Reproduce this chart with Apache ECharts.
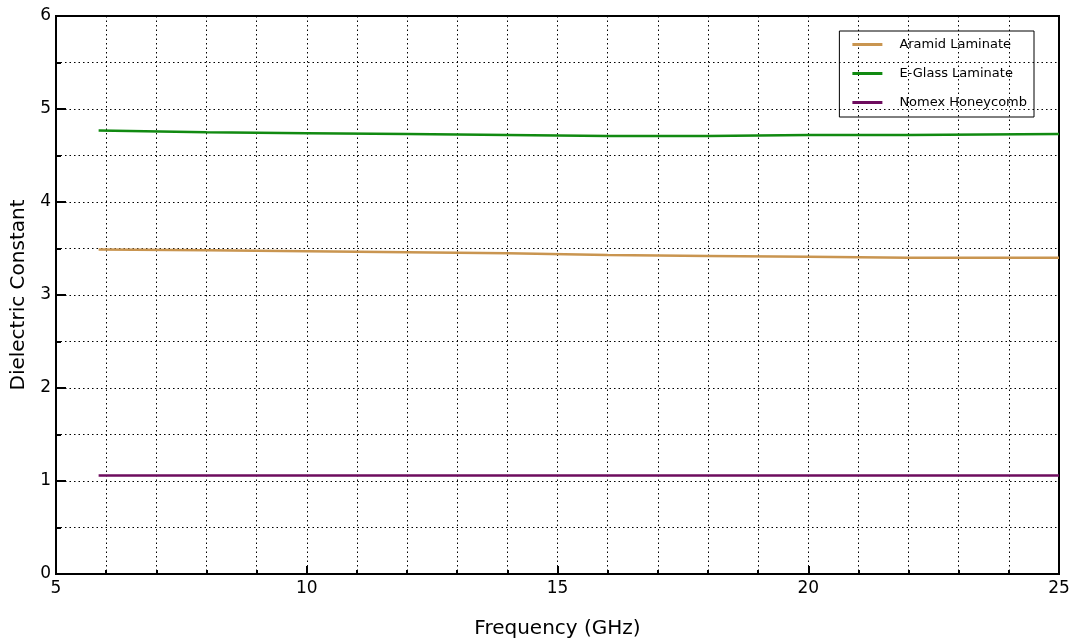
<!DOCTYPE html>
<html><head><meta charset="utf-8">
<script src="https://cdn.jsdelivr.net/npm/echarts@6/dist/echarts.min.js"></script>
<style>html,body{margin:0;padding:0;background:#fff}#c{width:1075px;height:640px}</style>
</head><body><div id="c"></div>
<script>
const freq = [5.85, 8, 10, 12, 14, 16, 18, 20, 22, 25];
const aramid = [3.49, 3.48, 3.47, 3.46, 3.45, 3.43, 3.42, 3.41, 3.40, 3.40];
const eglass = [4.77, 4.75, 4.74, 4.73, 4.72, 4.71, 4.71, 4.72, 4.72, 4.73];
const nomex = [1.06, 1.06, 1.06, 1.06, 1.06, 1.06, 1.06, 1.06, 1.06, 1.06];
const seriesNames = ['Aramid Laminate', 'E-Glass Laminate', 'Nomex Honeycomb'];
const colors = ['#C99550', '#118A11', '#6E0C5E'];
const font = 'DejaVu Sans';
const pair = (ys) => freq.map((x, i) => [x, ys[i]]);
const chart = echarts.init(document.getElementById('c'));
const dotted = { show: true, lineStyle: { color: '#000', type: [1.5, 3], width: 1 } };
chart.setOption({
  animation: false,
  grid: { left: 56, right: 16, top: 16, bottom: 66, containLabel: false, outerBoundsMode: 'none', show: true, borderColor: '#000', borderWidth: 2, backgroundColor: 'transparent' },
  legend: {
    right: 41, top: 31, orient: 'vertical', itemGap: 16, itemWidth: 30, itemHeight: 3,
    borderColor: '#000', borderWidth: 1, padding: [7, 7, 8, 13], borderRadius: 0,
    textStyle: { fontFamily: font, fontSize: 13, color: '#000', padding: [0, 0, 0, 12] },
    icon: 'rect', data: seriesNames
  },
  xAxis: {
    type: 'value', min: 5, max: 25, interval: 5,
    name: 'Frequency (GHz)', nameLocation: 'middle', nameGap: 45,
    nameTextStyle: { fontFamily: font, fontSize: 20, color: '#000' },
    axisLine: { show: true, onZero: false, lineStyle: { color: '#000', width: 2 } },
    axisTick: { show: true, inside: true, length: 8, lineStyle: { color: '#000', width: 2 } },
    minorTick: { show: true, splitNumber: 5, length: 4, lineStyle: { color: '#000', width: 2 } },
    axisLabel: { fontFamily: font, fontSize: 17, color: '#000', margin: 6 },
    splitLine: dotted, minorSplitLine: dotted
  },
  yAxis: {
    type: 'value', min: 0, max: 6, interval: 1,
    name: 'Dielectric Constant', nameLocation: 'middle', nameGap: 24,
    nameTextStyle: { fontFamily: font, fontSize: 20, color: '#000' },
    axisLine: { show: true, onZero: false, lineStyle: { color: '#000', width: 2 } },
    axisTick: { show: true, inside: true, length: 10, lineStyle: { color: '#000', width: 2 } },
    minorTick: { show: true, splitNumber: 2, length: 5, lineStyle: { color: '#000', width: 2 } },
    axisLabel: { fontFamily: font, fontSize: 17, color: '#000', margin: 5 },
    splitLine: dotted, minorSplitLine: dotted
  },
  series: [
    { name: seriesNames[0], type: 'line', data: pair(aramid), showSymbol: false, lineStyle: { width: 2.5, color: colors[0] }, itemStyle: { color: colors[0] } },
    { name: seriesNames[1], type: 'line', data: pair(eglass), showSymbol: false, lineStyle: { width: 2.5, color: colors[1] }, itemStyle: { color: colors[1] } },
    { name: seriesNames[2], type: 'line', data: pair(nomex), showSymbol: false, lineStyle: { width: 2.5, color: colors[2] }, itemStyle: { color: colors[2] } }
  ]
});
</script></body></html>
